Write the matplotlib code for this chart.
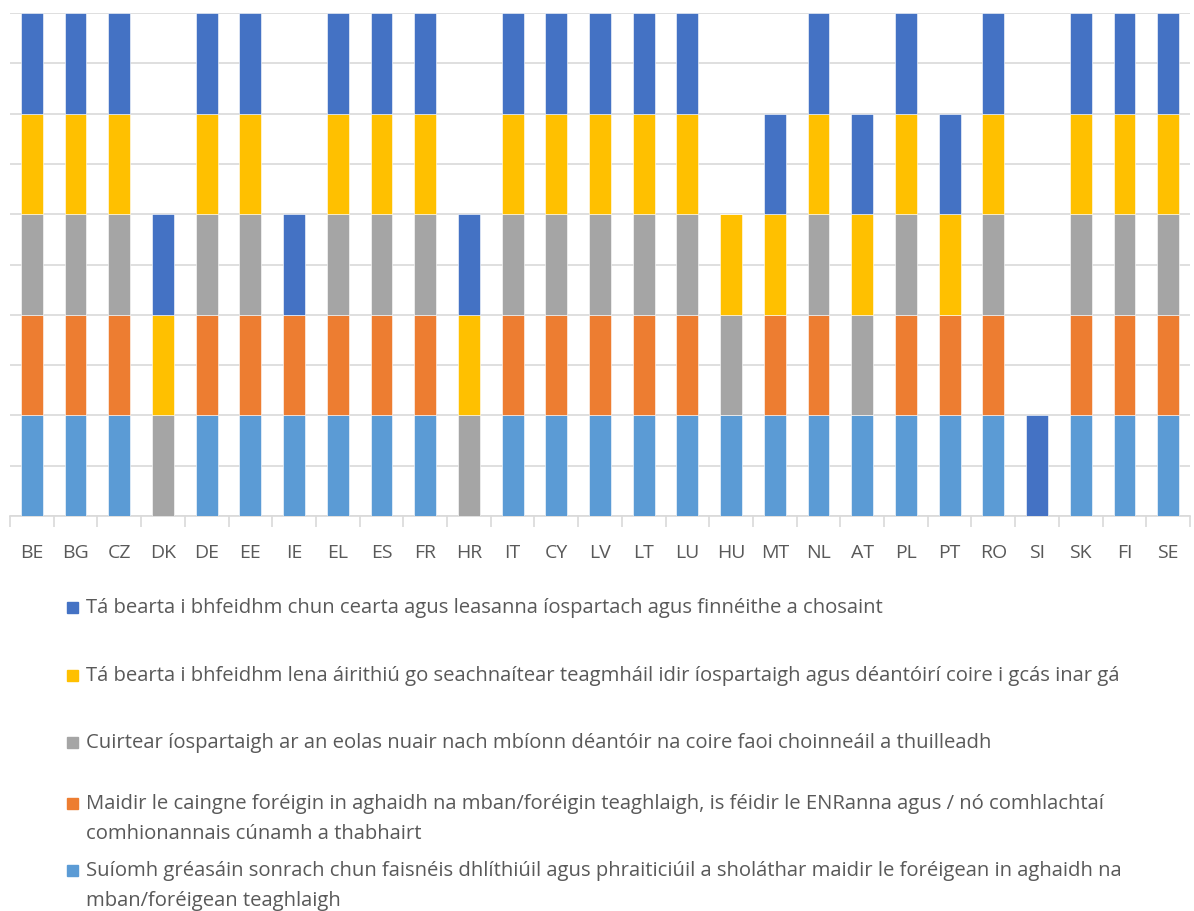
import matplotlib
matplotlib.use('Agg')
import matplotlib.pyplot as plt
import numpy as np
from matplotlib.patches import Rectangle

plt.rcParams['font.family'] = ['Open Sans', 'DejaVu Sans']

countries = ['BE', 'BG', 'CZ', 'DK', 'DE', 'EE', 'IE', 'EL', 'ES', 'FR', 'HR', 'IT', 'CY', 'LV',
             'LT', 'LU', 'HU', 'MT', 'NL', 'AT', 'PL', 'PT', 'RO', 'SI', 'SK', 'FI', 'SE']

# stacked bottom to top
suiomh = [1, 1, 1, 0, 1, 1, 1, 1, 1, 1, 0, 1, 1, 1, 1, 1, 1, 1, 1, 1, 1, 1, 1, 0, 1, 1, 1]
caingne = [1, 1, 1, 0, 1, 1, 1, 1, 1, 1, 0, 1, 1, 1, 1, 1, 0, 1, 1, 0, 1, 1, 1, 0, 1, 1, 1]
eolas = [1, 1, 1, 1, 1, 1, 0, 1, 1, 1, 1, 1, 1, 1, 1, 1, 1, 0, 1, 1, 1, 0, 1, 0, 1, 1, 1]
teagmhail = [1, 1, 1, 1, 1, 1, 0, 1, 1, 1, 1, 1, 1, 1, 1, 1, 1, 1, 1, 1, 1, 1, 1, 0, 1, 1, 1]
cearta = [1, 1, 1, 1, 1, 1, 1, 1, 1, 1, 1, 1, 1, 1, 1, 1, 0, 1, 1, 1, 1, 1, 1, 1, 1, 1, 1]

series = [suiomh, caingne, eolas, teagmhail, cearta]
colors = ['#5B9BD5', '#ED7D31', '#A5A5A5', '#FFC000', '#4472C4']
labels = [
    'Suíomh gréasáin sonrach chun faisnéis dhlíthiúil agus phraiticiúil a sholáthar maidir le foréigean in aghaidh na\nmban/foréigean teaghlaigh',
    'Maidir le caingne foréigin in aghaidh na mban/foréigin teaghlaigh, is féidir le ENRanna agus / nó comhlachtaí\ncomhionannais cúnamh a thabhairt',
    'Cuirtear íospartaigh ar an eolas nuair nach mbíonn déantóir na coire faoi choinneáil a thuilleadh',
    'Tá bearta i bhfeidhm lena áirithiú go seachnaítear teagmháil idir íospartaigh agus déantóirí coire i gcás inar gá',
    'Tá bearta i bhfeidhm chun cearta agus leasanna íospartach agus finnéithe a chosaint',
]

fig = plt.figure(figsize=(11.94, 9.11), dpi=100)
ax = fig.add_axes([10 / 1194, (911 - 516) / 911, 1180 / 1194, 503 / 911])

x = np.arange(len(countries))
bottom = np.zeros(len(countries))
for vals, col in zip(series, colors):
    ax.bar(x, vals, 0.5, bottom=bottom, color=col, edgecolor='white', linewidth=0.4, zorder=3)
    bottom += np.array(vals)

ax.set_xlim(-0.5, len(countries) - 0.5)
ax.set_ylim(0, 5)
ax.set_yticks(np.arange(0, 5.01, 0.5))
ax.set_yticklabels([])
ax.tick_params(axis='y', length=0)
ax.grid(axis='y', color='#d9d9d9', linewidth=1.2, zorder=0)
for s in ['top', 'right', 'left']:
    ax.spines[s].set_visible(False)
ax.spines['bottom'].set_color('#d9d9d9')
ax.spines['bottom'].set_linewidth(1.2)
ax.set_xticks(x)
ax.set_xticklabels(countries, fontsize=14, color='#595959')
ax.tick_params(axis='x', length=0, pad=20)
ax.set_xticks(np.arange(-0.5, len(countries)), minor=True)
ax.tick_params(axis='x', which='minor', length=8, color='#d9d9d9', width=1.2)

# legend, drawn in reverse order, top entry first
rows = [607, 675, 742, 803, 870]
for i, (lab, col) in enumerate(zip(labels[::-1], colors[::-1])):
    yc = rows[i]
    fig.patches.append(Rectangle((67 / 1194, 1 - (yc + 5.5) / 911), 11 / 1194, 11 / 911,
                                 transform=fig.transFigure, color=col, figure=fig))
    for k, line in enumerate(lab.split('\n')):
        fig.text(86 / 1194, 1 - (yc + 6 + 30 * k) / 911, line, fontsize=14.6, color='#595959',
                 va='baseline', ha='left')

fig.savefig('out.png', dpi=100)
